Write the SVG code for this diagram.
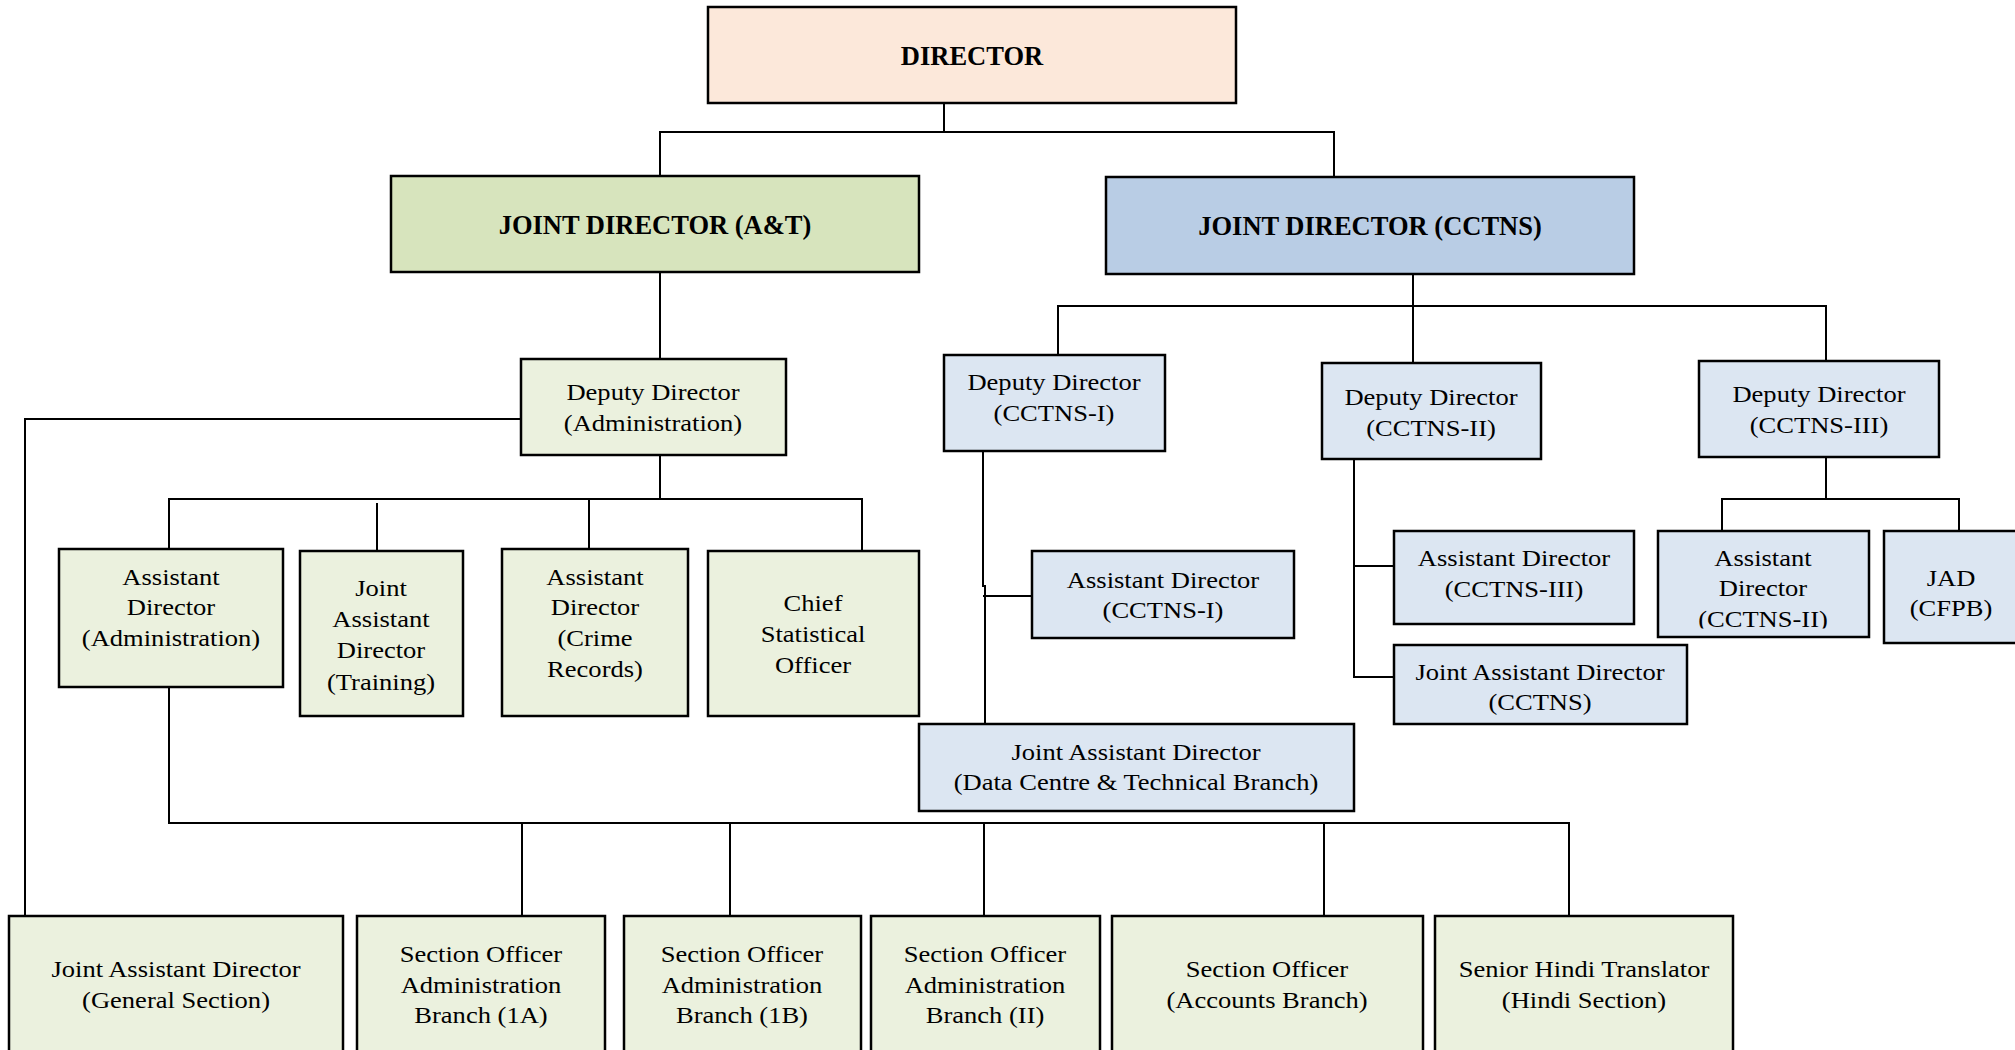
<svg xmlns="http://www.w3.org/2000/svg" width="2015" height="1050" viewBox="0 0 2015 1050">
<style>
.box{stroke:#000;stroke-width:2.5}
.dir{fill:#FCE8DA}
.jda{fill:#D7E4BD}
.jdc{fill:#B9CDE5}
.g{fill:#EBF1DE}
.b{fill:#DCE6F2}
.t{font-family:"Liberation Serif","Times New Roman",serif;font-size:23.5px;fill:#000;text-anchor:middle}
.h{font-family:"Liberation Serif","Times New Roman",serif;font-size:26.5px;font-weight:bold;fill:#000;text-anchor:middle}
.c{fill:none;stroke:#000;stroke-width:2}
</style>
<defs>
<clipPath id="clipAD2"><rect x="1658" y="531" width="211" height="97.5"/></clipPath>
</defs>
<rect width="2015" height="1050" fill="#fff"/>
<g id="connectors">
<path class="c" d="M944,103 V132"/>
<path class="c" d="M660,176 V132 H1334 V177"/>
<path class="c" d="M660,272 V359"/>
<path class="c" d="M1413,274 V363"/>
<path class="c" d="M1058,355 V306 H1826 V361"/>
<path class="c" d="M25,916 V419 H521"/>
<path class="c" d="M660,455 V499"/>
<path class="c" d="M169,549 V499 H862 V551"/>
<path class="c" d="M377,503 V551"/>
<path class="c" d="M589,499 V549"/>
<path class="c" d="M983,451 V586 H985 V724"/>
<path class="c" d="M983,596 H1032"/>
<path class="c" d="M1354,459 V677 H1394"/>
<path class="c" d="M1354,566 H1394"/>
<path class="c" d="M1826,457 V499"/>
<path class="c" d="M1722,531 V499 H1959 V531"/>
<path class="c" d="M169,687 V823 H1569 V916"/>
<path class="c" d="M522,823 V916"/>
<path class="c" d="M730,823 V916"/>
<path class="c" d="M984,823 V916"/>
<path class="c" d="M1324,823 V916"/>
</g>
<g id="director">
<rect class="box dir" x="708" y="7" width="528" height="96"/>
<text class="h" x="972" y="65">DIRECTOR</text>
</g>
<g id="jd-at">
<rect class="box jda" x="391" y="176" width="528" height="96"/>
<text class="h" x="655" y="234">JOINT DIRECTOR (A&amp;T)</text>
</g>
<g id="jd-cctns">
<rect class="box jdc" x="1106" y="177" width="528" height="97"/>
<text class="h" x="1370" y="235">JOINT DIRECTOR (CCTNS)</text>
</g>
<g id="dd-admin">
<rect class="box g" x="521" y="359" width="265" height="96"/>
<text class="t" transform="translate(653 0) scale(1.13 1)"><tspan x="0" y="400">Deputy Director</tspan><tspan x="0" y="431">(Administration)</tspan></text>
</g>
<g id="ad-admin">
<rect class="box g" x="59" y="549" width="224" height="138"/>
<text class="t" transform="translate(171 0) scale(1.13 1)"><tspan x="0" y="585">Assistant</tspan><tspan x="0" y="615">Director</tspan><tspan x="0" y="646">(Administration)</tspan></text>
</g>
<g id="jad-training">
<rect class="box g" x="300" y="551" width="163" height="165"/>
<text class="t" transform="translate(381 0) scale(1.13 1)"><tspan x="0" y="596">Joint</tspan><tspan x="0" y="627">Assistant</tspan><tspan x="0" y="658">Director</tspan><tspan x="0" y="690">(Training)</tspan></text>
</g>
<g id="ad-crime">
<rect class="box g" x="502" y="549" width="186" height="167"/>
<text class="t" transform="translate(595 0) scale(1.13 1)"><tspan x="0" y="585">Assistant</tspan><tspan x="0" y="615">Director</tspan><tspan x="0" y="646">(Crime</tspan><tspan x="0" y="677">Records)</tspan></text>
</g>
<g id="cso">
<rect class="box g" x="708" y="551" width="211" height="165"/>
<text class="t" transform="translate(813 0) scale(1.13 1)"><tspan x="0" y="611">Chief</tspan><tspan x="0" y="642">Statistical</tspan><tspan x="0" y="673">Officer</tspan></text>
</g>
<g id="dd-cctns1">
<rect class="box b" x="944" y="355" width="221" height="96"/>
<text class="t" transform="translate(1054 0) scale(1.13 1)"><tspan x="0" y="390">Deputy Director</tspan><tspan x="0" y="421">(CCTNS-I)</tspan></text>
</g>
<g id="dd-cctns2">
<rect class="box b" x="1322" y="363" width="219" height="96"/>
<text class="t" transform="translate(1431 0) scale(1.13 1)"><tspan x="0" y="405">Deputy Director</tspan><tspan x="0" y="436">(CCTNS-II)</tspan></text>
</g>
<g id="dd-cctns3">
<rect class="box b" x="1699" y="361" width="240" height="96"/>
<text class="t" transform="translate(1819 0) scale(1.13 1)"><tspan x="0" y="402">Deputy Director</tspan><tspan x="0" y="433">(CCTNS-III)</tspan></text>
</g>
<g id="ad-cctns1">
<rect class="box b" x="1032" y="551" width="262" height="87"/>
<text class="t" transform="translate(1163 0) scale(1.13 1)"><tspan x="0" y="588">Assistant Director</tspan><tspan x="0" y="618">(CCTNS-I)</tspan></text>
</g>
<g id="ad-cctns3">
<rect class="box b" x="1394" y="531" width="240" height="93"/>
<text class="t" transform="translate(1514 0) scale(1.13 1)"><tspan x="0" y="566">Assistant Director</tspan><tspan x="0" y="597">(CCTNS-III)</tspan></text>
</g>
<g id="jad-cctns">
<rect class="box b" x="1394" y="645" width="293" height="79"/>
<text class="t" transform="translate(1540 0) scale(1.13 1)"><tspan x="0" y="680">Joint Assistant Director</tspan><tspan x="0" y="710">(CCTNS)</tspan></text>
</g>
<g id="ad-cctns2">
<rect class="box b" x="1658" y="531" width="211" height="106"/>
<g clip-path="url(#clipAD2)">
<text class="t" transform="translate(1763 0) scale(1.13 1)"><tspan x="0" y="566">Assistant</tspan><tspan x="0" y="596">Director</tspan><tspan x="0" y="627">(CCTNS-II)</tspan></text>
</g>
</g>
<g id="jad-cfpb">
<rect class="box b" x="1884" y="531" width="145" height="112"/>
<text class="t" transform="translate(1951 0) scale(1.13 1)"><tspan x="0" y="586">JAD</tspan><tspan x="0" y="616">(CFPB)</tspan></text>
</g>
<g id="jad-datacentre">
<rect class="box b" x="919" y="724" width="435" height="87"/>
<text class="t" transform="translate(1136 0) scale(1.13 1)"><tspan x="0" y="760">Joint Assistant Director</tspan><tspan x="0" y="790">(Data Centre &amp; Technical Branch)</tspan></text>
</g>
<g id="jad-general">
<rect class="box g" x="9" y="916" width="334" height="145"/>
<text class="t" transform="translate(176 0) scale(1.13 1)"><tspan x="0" y="977">Joint Assistant Director</tspan><tspan x="0" y="1008">(General Section)</tspan></text>
</g>
<g id="so-1a">
<rect class="box g" x="357" y="916" width="248" height="145"/>
<text class="t" transform="translate(481 0) scale(1.13 1)"><tspan x="0" y="962">Section Officer</tspan><tspan x="0" y="993">Administration</tspan><tspan x="0" y="1023">Branch (1A)</tspan></text>
</g>
<g id="so-1b">
<rect class="box g" x="624" y="916" width="237" height="145"/>
<text class="t" transform="translate(742 0) scale(1.13 1)"><tspan x="0" y="962">Section Officer</tspan><tspan x="0" y="993">Administration</tspan><tspan x="0" y="1023">Branch (1B)</tspan></text>
</g>
<g id="so-2">
<rect class="box g" x="871" y="916" width="229" height="145"/>
<text class="t" transform="translate(985 0) scale(1.13 1)"><tspan x="0" y="962">Section Officer</tspan><tspan x="0" y="993">Administration</tspan><tspan x="0" y="1023">Branch (II)</tspan></text>
</g>
<g id="so-accounts">
<rect class="box g" x="1112" y="916" width="311" height="145"/>
<text class="t" transform="translate(1267 0) scale(1.13 1)"><tspan x="0" y="977">Section Officer</tspan><tspan x="0" y="1008">(Accounts Branch)</tspan></text>
</g>
<g id="sht">
<rect class="box g" x="1435" y="916" width="298" height="145"/>
<text class="t" transform="translate(1584 0) scale(1.13 1)"><tspan x="0" y="977">Senior Hindi Translator</tspan><tspan x="0" y="1008">(Hindi Section)</tspan></text>
</g>
</svg>
